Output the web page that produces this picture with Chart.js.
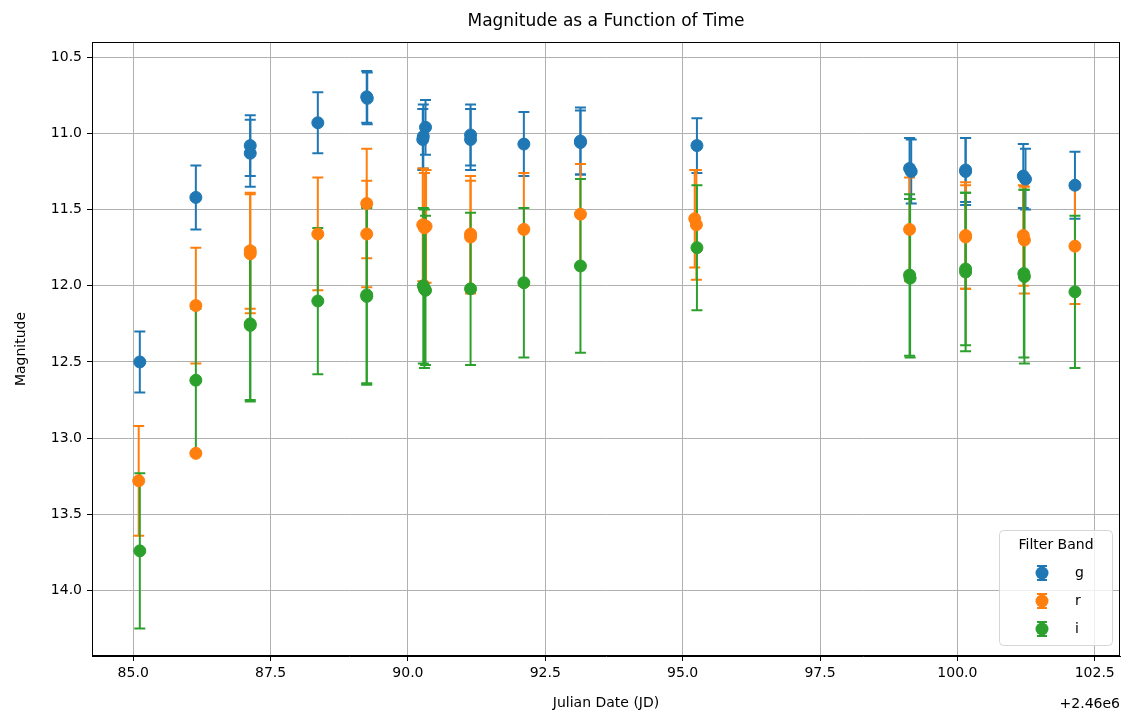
<!DOCTYPE html>
<html>
<head>
<meta charset="utf-8">
<script src="https://cdn.jsdelivr.net/npm/chart.js@4.4.1/dist/chart.umd.min.js"></script>
<style>
  html, body { margin: 0; padding: 0; background: #fff; }
  #wrap { width: 1128px; height: 715px; }
</style>
</head>
<body>
<div id="wrap"><canvas id="magChart" width="1128" height="715"></canvas></div>
<script>
// Julian dates are stored relative to this offset
const JD_OFFSET = 2460000;

// g band
const gJd  = [85.12, 86.14, 87.13, 87.13, 88.36, 89.25, 89.26, 90.27, 90.28, 90.32, 91.14, 91.14, 92.11, 93.14, 93.14, 95.26, 99.13, 99.16, 100.15, 100.15, 101.20, 101.24, 102.14];
const gMag = [12.50, 11.42, 11.08, 11.13, 10.93, 10.76, 10.77, 11.04, 11.02, 10.96, 11.01, 11.04, 11.07, 11.05, 11.06, 11.08, 11.23, 11.25, 11.24, 11.25, 11.28, 11.30, 11.34];
const gErr = [0.20, 0.21, 0.20, 0.22, 0.20, 0.17, 0.17, 0.20, 0.21, 0.18, 0.20, 0.20, 0.21, 0.22, 0.21, 0.18, 0.20, 0.21, 0.21, 0.22, 0.21, 0.20, 0.22];

// r band
const rJd  = [85.10, 86.14, 86.14, 87.13, 87.13, 88.36, 89.25, 89.25, 90.27, 90.30, 90.33, 91.14, 91.14, 92.11, 93.14, 95.22, 95.25, 99.13, 100.15, 100.15, 101.20, 101.22, 102.14];
const rMag = [13.28, 12.13, 13.10, 11.77, 11.79, 11.66, 11.46, 11.66, 11.60, 11.62, 11.61, 11.66, 11.68, 11.63, 11.53, 11.56, 11.60, 11.63, 11.67, 11.68, 11.67, 11.70, 11.74];
const rErr = [0.36, 0.38, null, 0.38, 0.39, 0.37, 0.36, 0.35, 0.37, 0.36, 0.37, 0.38, 0.37, 0.37, 0.33, 0.32, 0.36, 0.34, 0.35, 0.34, 0.33, 0.35, 0.38];

// i band
const iJd  = [85.12, 86.14, 87.13, 87.13, 88.36, 89.25, 89.25, 90.28, 90.30, 90.32, 91.14, 92.11, 93.14, 95.26, 99.13, 99.14, 100.15, 100.15, 101.21, 101.22, 102.14];
const iMag = [13.74, 12.62, 12.25, 12.26, 12.10, 12.06, 12.07, 12.00, 12.02, 12.03, 12.02, 11.98, 11.87, 11.75, 11.93, 11.95, 11.89, 11.91, 11.92, 11.94, 12.04];
const iErr = [0.51, 0.47, 0.50, 0.50, 0.48, 0.58, 0.58, 0.51, 0.52, 0.49, 0.50, 0.49, 0.57, 0.41, 0.53, 0.52, 0.50, 0.52, 0.55, 0.57, 0.50];

const bandNames  = ['g', 'r', 'i'];
const bandColors = ['#1f77b4', '#ff7f0e', '#2ca02c'];

const xTicks = [85.0, 87.5, 90.0, 92.5, 95.0, 97.5, 100.0, 102.5];
const yTicks = [10.5, 11.0, 11.5, 12.0, 12.5, 13.0, 13.5, 14.0];

const FONT = '"DejaVu Sans", sans-serif';
const CAP = 5.5;

function points(jd, mag, err) {
    return jd.map((x, k) => ({ x: x, y: mag[k], err: err[k] }));
}

const bands = [
    points(gJd, gMag, gErr),
    points(rJd, rMag, rErr),
    points(iJd, iMag, iErr)
];

// vertical error bars with caps, all drawn beneath the markers
const errorBars = {
    id: 'errorBars',
    beforeDatasetsDraw(chart) {
        const { ctx, chartArea: a, scales: { x, y } } = chart;
        ctx.save();
        ctx.beginPath();
        ctx.rect(a.left, a.top, a.right - a.left, a.bottom - a.top);
        ctx.clip();
        ctx.lineWidth = 2;
        chart.data.datasets.forEach(ds => {
            ctx.strokeStyle = ds.borderColor;
            ds.data.forEach(p => {
                if (p.err == null) return;
                const px = x.getPixelForValue(p.x);
                const y1 = y.getPixelForValue(p.y - p.err);
                const y2 = y.getPixelForValue(p.y + p.err);
                ctx.beginPath();
                ctx.moveTo(px, y1); ctx.lineTo(px, y2);
                ctx.moveTo(px - CAP, y1); ctx.lineTo(px + CAP, y1);
                ctx.moveTo(px - CAP, y2); ctx.lineTo(px + CAP, y2);
                ctx.stroke();
            });
        });
        ctx.restore();
    }
};

// frame, title, offset text and legend
const decorations = {
    id: 'decorations',
    afterDraw(chart) {
        const { ctx, chartArea: a } = chart;
        ctx.save();
        ctx.strokeStyle = '#000';
        ctx.lineWidth = 1;
        ctx.strokeRect(a.left + 0.5, a.top + 0.5, a.right - a.left - 1, a.bottom - a.top - 1);

        ctx.fillStyle = '#000';
        ctx.font = '17px ' + FONT;
        ctx.textAlign = 'center';
        ctx.textBaseline = 'middle';
        ctx.fillText('Magnitude as a Function of Time', (a.left + a.right) / 2, 22);

        ctx.font = '14px ' + FONT;
        ctx.textAlign = 'right';
        ctx.fillText('+2.46e6', a.right, 704);

        // legend box
        const bx = 999.5, by = 530.5, bw = 113, bh = 115;
        ctx.beginPath();
        ctx.roundRect(bx, by, bw, bh, 4);
        ctx.fillStyle = 'rgba(255,255,255,0.8)';
        ctx.fill();
        ctx.strokeStyle = '#d6d6d6';
        ctx.stroke();

        ctx.fillStyle = '#000';
        ctx.textAlign = 'center';
        ctx.font = '14px ' + FONT;
        ctx.fillText('Filter Band', bx + bw / 2, 545);

        bandNames.forEach((name, k) => {
            const cy = 573 + k * 28;
            const cx = 1042;
            ctx.strokeStyle = bandColors[k];
            ctx.lineWidth = 2;
            ctx.beginPath();
            ctx.moveTo(cx, cy - 7); ctx.lineTo(cx, cy + 7);
            ctx.moveTo(cx - 5, cy - 7); ctx.lineTo(cx + 5, cy - 7);
            ctx.moveTo(cx - 5, cy + 7); ctx.lineTo(cx + 5, cy + 7);
            ctx.stroke();
            ctx.beginPath();
            ctx.arc(cx, cy, 6.5, 0, Math.PI * 2);
            ctx.fillStyle = bandColors[k];
            ctx.fill();
            ctx.fillStyle = '#000';
            ctx.textAlign = 'left';
            ctx.fillText(name, 1075, cy);
        });
        ctx.restore();
    }
};

const gridStyle = {
    color: '#b0b0b0',
    lineWidth: 1,
    tickLength: 5,
    tickColor: '#000',
    drawTicks: true
};

new Chart(document.getElementById('magChart'), {
    type: 'scatter',
    data: {
        datasets: bands.map((pts, k) => ({
            label: bandNames[k],
            data: pts,
            borderColor: bandColors[k],
            backgroundColor: bandColors[k],
            pointRadius: 6,
            pointBorderWidth: 1,
            pointHoverRadius: 6,
            order: 3 - k
        }))
    },
    options: {
        responsive: false,
        animation: false,
        events: [],
        layout: { padding: { top: 42, right: 8, left: 0, bottom: 0 } },
        plugins: {
            legend: { display: false },
            tooltip: { enabled: false },
            title: { display: false }
        },
        scales: {
            x: {
                type: 'linear',
                min: 84.25,
                max: 102.96,
                grid: gridStyle,
                border: { color: '#000', width: 1 },
                afterBuildTicks: s => { s.ticks = xTicks.map(v => ({ value: v })); },
                afterFit: s => { s.height = 59; },
                ticks: {
                    color: '#000',
                    padding: 4,
                    font: { family: FONT, size: 14 },
                    callback: v => v.toFixed(1)
                },
                title: {
                    display: true,
                    text: 'Julian Date (JD)',
                    color: '#000',
                    font: { family: FONT, size: 14 },
                    padding: { top: 0, bottom: 3 }
                }
            },
            y: {
                type: 'linear',
                reverse: true,
                min: 10.40,
                max: 14.43,
                grid: gridStyle,
                border: { color: '#000', width: 1 },
                afterBuildTicks: s => { s.ticks = yTicks.map(v => ({ value: v })); },
                afterFit: s => { s.width = 92; },
                ticks: {
                    color: '#000',
                    padding: 5,
                    font: { family: FONT, size: 14 },
                    callback: v => v.toFixed(1)
                },
                title: {
                    display: true,
                    text: 'Magnitude',
                    color: '#000',
                    font: { family: FONT, size: 14 },
                    padding: { top: 13, bottom: 0 }
                }
            }
        }
    },
    plugins: [errorBars, decorations]
});
</script>
</body>
</html>
